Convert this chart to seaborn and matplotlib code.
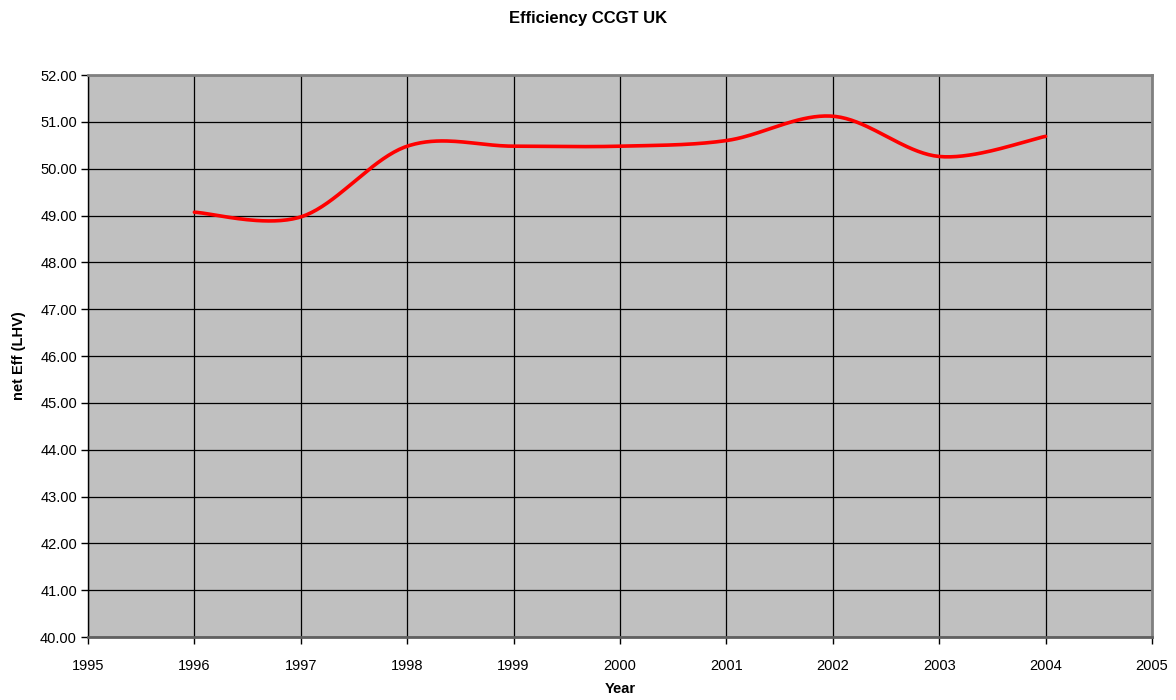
import numpy as np
import pandas as pd
import matplotlib
matplotlib.use("Agg")
import matplotlib.pyplot as plt
import seaborn as sns

years = [1996, 1997, 1998, 1999, 2000, 2001, 2002, 2003, 2004]
efficiency = [49.07, 48.97, 50.48, 50.48, 50.48, 50.60, 51.12, 50.26, 50.69]
title = "Efficiency CCGT UK"
x_label = "Year"
y_label = "net Eff (LHV)"


def excel_smooth(xs, ys, n=40):
    """Excel-style smoothed line: cubic Bezier segments (Catmull-Rom control points)."""
    xs = np.asarray(xs, float)
    ys = np.asarray(ys, float)
    px, py = [], []
    m = len(xs)
    for i in range(m - 1):
        i0 = max(i - 1, 0)
        i3 = min(i + 2, m - 1)
        c1x = xs[i] + (xs[i + 1] - xs[i0]) / 6
        c1y = ys[i] + (ys[i + 1] - ys[i0]) / 6
        c2x = xs[i + 1] - (xs[i3] - xs[i]) / 6
        c2y = ys[i + 1] - (ys[i3] - ys[i]) / 6
        t = np.linspace(0, 1, n, endpoint=(i == m - 2))
        a, b, c, d = (1 - t) ** 3, 3 * (1 - t) ** 2 * t, 3 * (1 - t) * t ** 2, t ** 3
        px.extend(a * xs[i] + b * c1x + c * c2x + d * xs[i + 1])
        py.extend(a * ys[i] + b * c1y + c * c2y + d * ys[i + 1])
    return np.array(px), np.array(py)


sns.set_theme(style="white")
plt.rcParams["font.family"] = ["Liberation Sans", "DejaVu Sans"]
plt.rcParams["text.color"] = "black"
plt.rcParams["axes.labelcolor"] = "black"
plt.rcParams["xtick.color"] = "black"
plt.rcParams["ytick.color"] = "black"

fig = plt.figure(figsize=(11.76, 7.0), dpi=100)
ax = fig.add_axes([88 / 1176, 1 - 637 / 700, (1152 - 88) / 1176, (637 - 75) / 700])
ax.set_facecolor("#c0c0c0")

sx, sy = excel_smooth(years, efficiency)
curve = pd.DataFrame({"x": sx, "y": sy})
sns.lineplot(data=curve, x="x", y="y", sort=False, estimator=None,
             color="#ff0000", linewidth=2.6, ax=ax, zorder=3)

ax.set_xlim(1995, 2005)
ax.set_ylim(40, 52)
ax.set_xticks(np.arange(1995, 2006, 1))
ax.set_yticks(np.arange(40, 53, 1))
ax.set_yticklabels([f"{v:.2f}" for v in np.arange(40, 53, 1)])
ax.grid(True, color="black", linewidth=0.9)
ax.set_axisbelow(True)

for side in ["top", "right"]:
    ax.spines[side].set_visible(True)
    ax.spines[side].set_color("#808080")
    ax.spines[side].set_linewidth(2)
ax.spines["bottom"].set_color("#606060")
ax.spines["bottom"].set_linewidth(2)
ax.spines["left"].set_color("black")
ax.spines["left"].set_linewidth(1)

ax.tick_params(axis="both", which="both", direction="out", length=5, width=1,
               color="black", labelsize=10.5, labelcolor="black")
ax.tick_params(axis="x", pad=11, bottom=True)
ax.tick_params(axis="y", pad=3, left=True)

ax.set_xlabel(x_label, fontsize=10.5, fontweight="bold", labelpad=6, color="black")
ax.set_ylabel(y_label, fontsize=10.5, fontweight="bold", labelpad=10, color="black")
fig.text(0.5, 1 - 18 / 700, title, ha="center", va="center",
         fontsize=12, fontweight="bold", color="black")

fig.savefig("out.png", dpi=100, facecolor="white")
